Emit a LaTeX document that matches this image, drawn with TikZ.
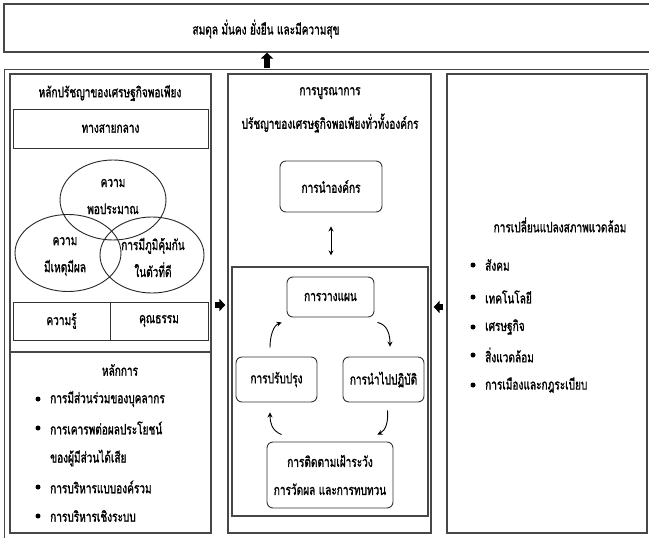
\documentclass[tikz,border=0pt]{standalone}
\usepackage{fontspec}
\newfontfamily\thaifont[Script=Thai,FakeStretch=0.7,FakeBold=1.3]{Loma}
\usetikzlibrary{shapes.geometric,arrows.meta}
\begin{document}
\begin{tikzpicture}[x=1pt,y=-1pt,
  frame/.style={draw=black!72,line width=1.2pt,inner sep=0pt},
  txt/.style={font=\thaifont\fontsize{14.4}{16}\selectfont,inner sep=0pt},
  two/.style={font=\thaifont\fontsize{14.4}{27}\selectfont,inner sep=0pt,align=center},
  sq/.style={draw=black!80,line width=0.9pt,txt},
  rbox/.style={draw=black!80,line width=0.9pt,rounded corners=6pt,txt},
  venn/.style={draw=black!85,ellipse,line width=0.9pt,inner sep=0pt},
  blockarrow/.style={line width=6pt,-{Triangle[width=12pt,length=6pt]}},
  cyc/.style={line width=0.9pt,-{Stealth[length=5pt,width=5pt]}},
  bul/.style={circle,fill=black,inner sep=0pt,minimum size=5pt},
]
\useasboundingbox (0,0) rectangle (649,538);
\fill[white] (0,0) rectangle (649,538);

% top box
\node[frame,minimum width=648pt,minimum height=48pt] (topbox) at (328,28) {};
\node[txt] (title) at (266,29) {สมดุล มั่นคง ยั่งยืน และมีความสุข};

% outer frame
\node[frame,minimum width=660pt,minimum height=500pt,anchor=north west] (outer) at (4,69) {};
\coordinate (ua) at (267,68);
\draw[blockarrow] (ua) -- (ua |- topbox.south);

% panels
\node[frame,minimum width=201pt,minimum height=459pt] (left) at (110.5,303.5) {};
\node[frame,minimum width=203pt,minimum height=459pt] (mid) at (329.5,303.5) {};
\node[frame,minimum width=200pt,minimum height=459pt] (right) at (547,303.5) {};
\draw[frame] (left.west |- 0,352) -- (left.east |- 0,352);

% left panel, upper part
\node[txt] (lhead) at (110,93) {หลักปรัชญาของเศรษฐกิจพอเพียง};
\node[sq,minimum width=195pt,minimum height=39pt] (middleway) at (110.5,128.5) {ทางสายกลาง};
\node[venn,minimum width=106pt,minimum height=80pt] (vtop) at (113,200) {};
\node[venn,minimum width=106pt,minimum height=77pt] (vleft) at (68,253) {};
\node[venn,minimum width=104pt,minimum height=76pt] (vright) at (152,255) {};
\node[two] (ttop) at (113,196.5) {ความ\\พอประมาณ};
\node[two] (tleft) at (65,256.5) {ความ\\มีเหตุมีผล};
\node[two] (tright) at (153,257.5) {การมีภูมิคุ้มกัน\\ในตัวที่ดี};
\node[sq,minimum width=97pt,minimum height=38pt] (know) at (61.5,321) {ความรู้};
\node[sq,minimum width=98pt,minimum height=38pt] (moral) at (159,321) {คุณธรรม};

% left panel, lower part
\node[txt] (phead) at (120,370) {หลักการ};
\node[bul] (b1) at (38,399) {};
\node[bul] (b2) at (38,428) {};
\node[bul] (b3) at (38,487) {};
\node[bul] (b4) at (38,516) {};
\node[txt,anchor=west] (p1) at (50,399) {การมีส่วนร่วมของบุคลากร};
\node[txt,anchor=west] (p2) at (50,428) {การเคารพต่อผลประโยชน์};
\node[txt,anchor=west] (p2b) at (50,458) {ของผู้มีส่วนได้เสีย};
\node[txt,anchor=west] (p3) at (50,487) {การบริหารแบบองค์รวม};
\node[txt,anchor=west] (p4) at (50,516) {การบริหารเชิงระบบ};

% middle panel
\node[txt] (mhead1) at (330,93) {การบูรณาการ};
\node[txt] (mhead2) at (330,123) {ปรัชญาของเศรษฐกิจพอเพียงทั่วทั้งองค์กร};
\node[rbox,minimum width=102pt,minimum height=51pt] (lead) at (331,186.5) {การนำองค์กร};
\node[frame,minimum width=196pt,minimum height=249pt] (inner) at (330,391.5) {};
\draw[line width=0.9pt,{Stealth[length=5pt,width=5pt]}-{Stealth[length=5pt,width=5pt]},shorten <=14pt,shorten >=11pt] (lead.south) -- (lead.south |- inner.north);

\node[rbox,minimum width=87pt,minimum height=40pt] (plan) at (330.5,297) {การวางแผน};
\node[rbox,minimum width=81pt,minimum height=45pt] (improve) at (276.5,379.5) {การปรับปรุง};
\node[rbox,minimum width=81pt,minimum height=45pt] (impl) at (383.5,379.5) {การนำไปปฏิบัติ};
\node[rbox,minimum width=126pt,minimum height=66pt,font=\thaifont\fontsize{14.4}{28}\selectfont,align=center] (monitor) at (330,475) {การติดตามเฝ้าระวัง\\การวัดผล และการทบทวน};

\draw[cyc] ([shift={(3,5)}]plan.south east) .. controls +(10,2) and +(0,-12) .. ([shift={(6.5,-10)}]impl.north);
\draw[cyc] ([shift={(4,8)}]impl.south) .. controls +(1,12) and +(8,-4) .. ([shift={(-16,-7)}]monitor.north east);
\draw[cyc] ([shift={(15,-7)}]monitor.north west) .. controls +(-10,-4) and +(0,10) .. ([shift={(-6.5,10)}]improve.south);
\draw[cyc] ([shift={(-6.5,-9)}]improve.north) .. controls +(0,-12) and +(-8,3) .. ([shift={(-5,5)}]plan.south west);

% block arrows into the middle panel
\draw[blockarrow,shorten <=3pt,shorten >=2pt] (left.east |- 0,305) -- (mid.west |- 0,305);
\draw[blockarrow,shorten <=3pt,shorten >=2pt] (right.west |- 0,307) -- (mid.east |- 0,307);

% right panel
\node[txt] (rhead) at (560,225) {การเปลี่ยนแปลงสภาพแวดล้อม};
\foreach \y/\t [count=\i] in {265/สังคม,297/เทคโนโลยี,327/เศรษฐกิจ,355/สิ่งแวดล้อม,385/การเมืองและกฎระเบียบ}{
  \node[bul] (rb\i) at (473,\y) {};
  \node[txt,anchor=west] (rt\i) at (485,\y) {\t};
}
\end{tikzpicture}
\end{document}
